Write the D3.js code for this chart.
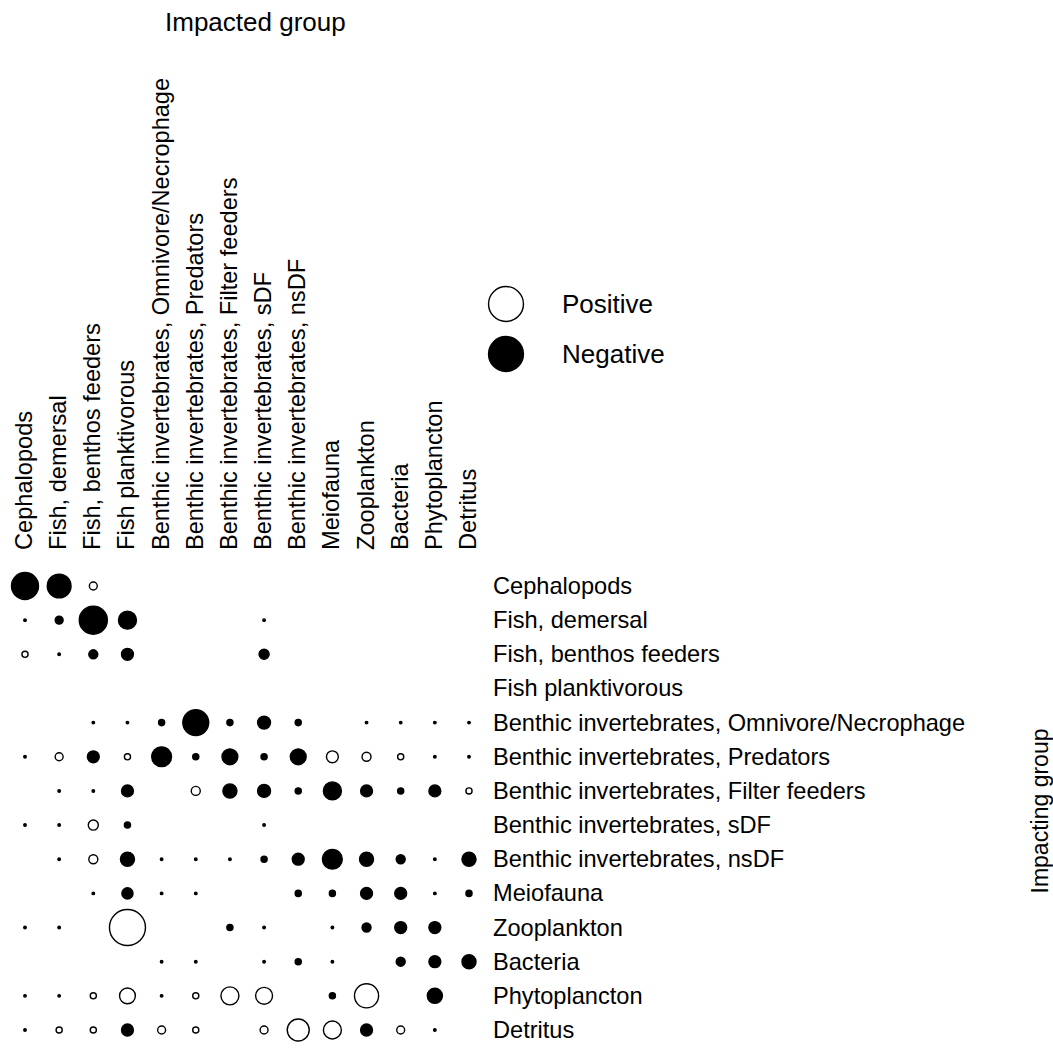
<!DOCTYPE html>
<html>
<head>
<meta charset="utf-8">
<script src="https://cdn.jsdelivr.net/npm/d3@7"></script>
<style>
  body { margin: 0; background: #fff; }
  text { font-family: "Liberation Sans", Arial, sans-serif; fill: #000; }
</style>
</head>
<body>
<div id="chart"></div>
<script>
// groups, same order for impacted (columns) and impacting (rows)
var groups = ["Cephalopods", "Fish, demersal", "Fish, benthos feeders", "Fish planktivorous",
    "Benthic invertebrates, Omnivore/Necrophage", "Benthic invertebrates, Predators",
    "Benthic invertebrates, Filter feeders", "Benthic invertebrates, sDF",
    "Benthic invertebrates, nsDF", "Meiofauna", "Zooplankton", "Bacteria",
    "Phytoplancton", "Detritus"];

// mixed impact, rows = impacting group, cols = impacted group (0 = nothing drawn)
var impacts = [
    [-0.75, -0.66,  0.22,  0,     0,     0,     0,     0,     0,     0,     0,     0,     0,     0],
    [-0.07, -0.22, -0.78, -0.50,  0,     0,     0,    -0.07,  0,     0,     0,     0,     0,     0],
    [ 0.17, -0.07, -0.25, -0.33,  0,     0,     0,    -0.28,  0,     0,     0,     0,     0,     0],
    [ 0,     0,     0,     0,     0,     0,     0,     0,     0,     0,     0,     0,     0,     0],
    [ 0,     0,    -0.07, -0.07, -0.17, -0.72, -0.17, -0.36, -0.17,  0,    -0.07, -0.07, -0.07, -0.07],
    [-0.07,  0.22, -0.33,  0.17, -0.55, -0.17, -0.44, -0.17, -0.44,  0.33,  0.25,  0.17, -0.07, -0.07],
    [ 0,    -0.07, -0.07, -0.33,  0,     0.25, -0.39, -0.36, -0.17, -0.50, -0.33, -0.17, -0.33,  0.17],
    [-0.07, -0.07,  0.28, -0.17,  0,     0,     0,    -0.07,  0,     0,     0,     0,     0,     0],
    [ 0,    -0.07,  0.25, -0.39, -0.07, -0.07, -0.07, -0.17, -0.33, -0.55, -0.39, -0.25, -0.07, -0.39],
    [ 0,     0,    -0.07, -0.31, -0.07, -0.07,  0,     0,    -0.17, -0.17, -0.33, -0.33, -0.07, -0.17],
    [-0.07, -0.07,  0,     1.00,  0,     0,    -0.17, -0.07,  0,    -0.07, -0.25, -0.33, -0.33,  0],
    [ 0,     0,     0,     0,    -0.07, -0.07,  0,    -0.07, -0.17, -0.07,  0,    -0.25, -0.33, -0.39],
    [-0.07, -0.07,  0.17,  0.44, -0.07,  0.17,  0.50,  0.47,  0,    -0.17,  0.67,  0,    -0.42,  0],
    [-0.07,  0.17,  0.17, -0.33,  0.22,  0.17,  0,     0.22,  0.61,  0.50, -0.33,  0.22, -0.07,  0]
];

var legendItems = [{label: "Positive", value: 0.97}, {label: "Negative", value: -0.97}];

var width = 1053, height = 1060;

var svg = d3.select("#chart").append("svg")
    .attr("width", width)
    .attr("height", height);

var x = d3.scalePoint().domain(groups).range([25, 469]);
var y = d3.scalePoint().domain(groups).range([586, 1030]);
var r = d3.scaleLinear().domain([0, 1]).range([0, 18]);

// flatten matrix into cells
var cells = [];
impacts.forEach(function (row, i) {
    row.forEach(function (v, j) {
        if (v != 0) {
            cells.push({from: groups[i], to: groups[j], value: v});
        }
    });
});

svg.append("g").selectAll("circle")
    .data(cells)
    .enter().append("circle")
    .attr("cx", function (d) { return x(d.to); })
    .attr("cy", function (d) { return y(d.from); })
    .attr("r", function (d) { return r(Math.abs(d.value)); })
    .attr("fill", function (d) { return d.value < 0 ? "#000" : "#fff"; })
    .attr("stroke", "#000")
    .attr("stroke-width", 1.4);

// column labels (impacted), rotated
svg.append("g").selectAll("text")
    .data(groups)
    .enter().append("text")
    .attr("transform", function (d) { return "translate(" + (x(d) + 7) + ",550) rotate(-90)"; })
    .style("font-size", "23.6px")
    .text(function (d) { return d; });

// row labels (impacting)
svg.append("g").selectAll("text")
    .data(groups)
    .enter().append("text")
    .attr("x", 493)
    .attr("y", function (d) { return y(d) + 8; })
    .style("font-size", "23.6px")
    .text(function (d) { return d; });

svg.append("text")
    .attr("x", 165)
    .attr("y", 31)
    .style("font-size", "26px")
    .text("Impacted group");

svg.append("text")
    .attr("transform", "translate(1048,811) rotate(-90)")
    .attr("text-anchor", "middle")
    .style("font-size", "23px")
    .text("Impacting group");

// legend
var legend = svg.append("g").selectAll("g")
    .data(legendItems)
    .enter().append("g")
    .attr("transform", function (d, i) { return "translate(506," + (304 + i * 50) + ")"; });

legend.append("circle")
    .attr("r", function (d) { return r(Math.abs(d.value)); })
    .attr("fill", function (d) { return d.value < 0 ? "#000" : "#fff"; })
    .attr("stroke", "#000")
    .attr("stroke-width", 1.4);

legend.append("text")
    .attr("x", 56)
    .attr("y", 9)
    .style("font-size", "26px")
    .text(function (d) { return d.label; });
</script>
</body>
</html>
